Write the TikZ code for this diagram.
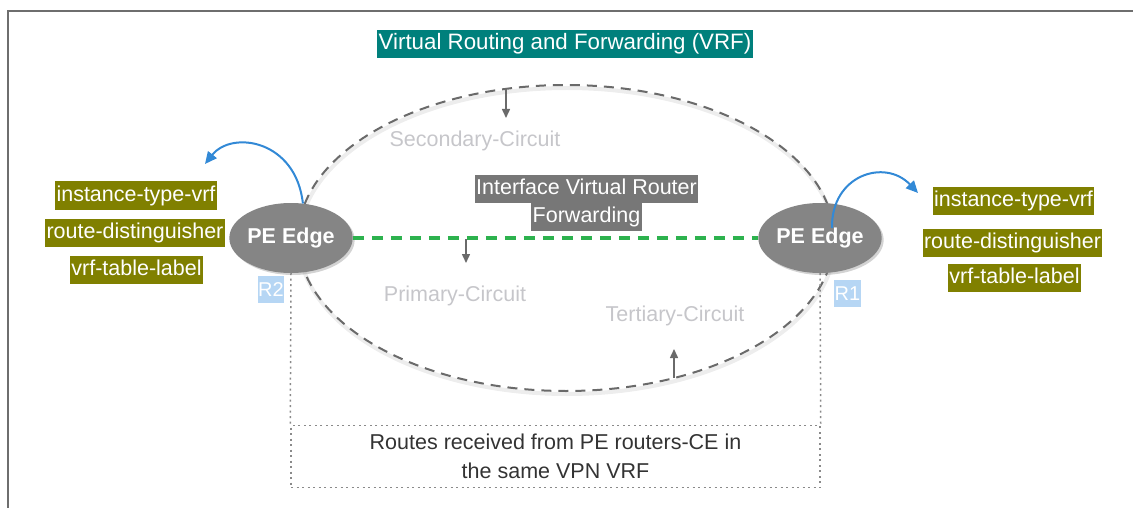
\documentclass[tikz,border=0pt]{standalone}
\usepackage{fontspec}
\setmainfont{Liberation Sans}
\usetikzlibrary{arrows.meta,shadows,shapes.geometric}

\definecolor{frameGray}{HTML}{6E6E6E}
\definecolor{vrfTeal}{HTML}{00807C}
\definecolor{attrOlive}{HTML}{808000}
\definecolor{peGray}{HTML}{858585}
\definecolor{ifGray}{HTML}{777777}
\definecolor{tagBlue}{HTML}{B6D6F4}
\definecolor{circGray}{HTML}{C6C6CA}
\definecolor{linkGreen}{HTML}{2DB24E}
\definecolor{hopBlue}{HTML}{3289D6}
\definecolor{ringGray}{HTML}{6A6A6A}
\definecolor{dotGray}{HTML}{8A8A8A}
\definecolor{noteText}{HTML}{333333}

\tikzset{
  base font/.style={font=\fontsize{21.5}{29}\selectfont},
  hilite/.style={base font, text=white, inner xsep=1.5pt, inner ysep=0pt,
    minimum height=28pt, text height=16pt, text depth=5pt},
  attr/.style={hilite, fill=attrOlive},
  heading/.style={hilite, fill=vrfTeal, font=\fontsize{22.3}{29}\selectfont},
  iface/.style={hilite, fill=ifGray},
  pe/.style={ellipse, fill=peGray, inner sep=0pt, minimum width=118pt,
    minimum height=70pt, text=white, font=\fontsize{21.5}{26}\selectfont\bfseries,
    drop shadow={opacity=0.35, shadow xshift=2pt, shadow yshift=-2pt}},
  tag/.style={fill=tagBlue, text=white, inner xsep=0.5pt, inner ysep=0pt,
    minimum height=27pt, font=\fontsize{20}{24}\selectfont},
  circuit/.style={base font, text=circGray},
  ring/.style={ellipse, draw=ringGray, line width=2pt, dash pattern=on 10pt off 7pt,
    inner sep=0pt, outer sep=0pt},
  link/.style={draw=linkGreen, line width=3.5pt, dash pattern=on 11pt off 8pt},
  hop/.style={draw=hopBlue, line width=2pt, -{Triangle[length=12pt,width=11pt]}},
  tick/.style={draw=ringGray, line width=1.5pt, -{Triangle[length=9pt,width=8pt]}},
  dotline/.style={draw=dotGray, line width=1.5pt, dash pattern=on 2pt off 3.5pt},
  notebox/.style={dotline, base font, text=noteText, align=center, inner sep=0pt,
    minimum width=529pt, minimum height=62pt}
}

\begin{document}
\begin{tikzpicture}[x=1pt, y=-1pt]
  \useasboundingbox (0,0) rectangle (1133,508);

  % page frame (left and top edges)
  \draw[frameGray, line width=2.2pt] (8,510) -- (8,11) -- (1136,11);

  % heading
  \node[heading] (title) at (565,44) {Virtual Routing and Forwarding (VRF)};

  % soft shade under the VRF ring, then the ring itself
  \draw[black!7, line width=4pt] (567,241) ellipse [x radius=268pt, y radius=153pt];
  \node[ring, minimum width=536pt, minimum height=306pt] (vrfring) at (566,238) {};

  % lower dotted note box
  \node[notebox] (routes) at (555.5,456.5)
    {Routes received from PE routers-CE in\\the same VPN VRF};

  % PE routers
  \node[pe] (peL) at (291,238) {PE Edge};
  \node[pe] (peR) at (820,238) {PE Edge};

  % router tags
  \node[tag] (r2) at (271,289.5) {R2};
  \node[tag] (r1) at (847.5,293.5) {R1};

  % dotted drops from the routers to the note box
  \draw[dotline] (peL.south) -- (routes.north west);
  \draw[dotline] (peR.south) -- (routes.north east);

  % link between the two PE routers
  \draw[link] (peL.east) -- (peR.west);

  % interface label
  \node[iface] (if1) at (586.5,189) {Interface Virtual Router};
  \node[iface, anchor=north] (if2) at (if1.south) {Forwarding};

  % circuit labels
  \node[circuit] (secc) at (475,141) {Secondary-Circuit};
  \node[circuit] (prim) at (455,296) {Primary-Circuit};
  \node[circuit] (tert) at (675,316) {Tertiary-Circuit};

  % small direction markers
  \coordinate (t1s) at (506,89);  \coordinate (t1e) at (506,118);
  \coordinate (t2s) at (466,239); \coordinate (t2e) at (466,263);
  \coordinate (t3s) at (674,378); \coordinate (t3e) at (674,349);
  \draw[tick] (t1s) -- (t1e);
  \draw[tick] (t2s) -- (t2e);
  \draw[tick] (t3s) -- (t3e);

  % VRF attributes on R2
  \node[attr] (l1) at (136,195.5) {instance-type-vrf};
  \node[attr] (l2) at (135,233) {route-distinguisher};
  \node[attr] (l3) at (136.5,269.5) {vrf-table-label};

  % VRF attributes on R1
  \node[attr] (q1) at (1013.5,201) {instance-type-vrf};
  \node[attr] (q2) at (1012.5,243) {route-distinguisher};
  \node[attr] (q3) at (1014.5,278) {vrf-table-label};

  % curved pointers to the attribute lists
  \coordinate (hopL) at (205,164);
  \draw[hop] (peL.71) .. controls (296,140) and (232,130) .. (hopL);
  \coordinate (hopRs) at (832,228);
  \coordinate (hopR) at (918,193);
  \draw[hop] (hopRs) .. controls (831,175) and (885,158) .. (hopR);
\end{tikzpicture}
\end{document}
